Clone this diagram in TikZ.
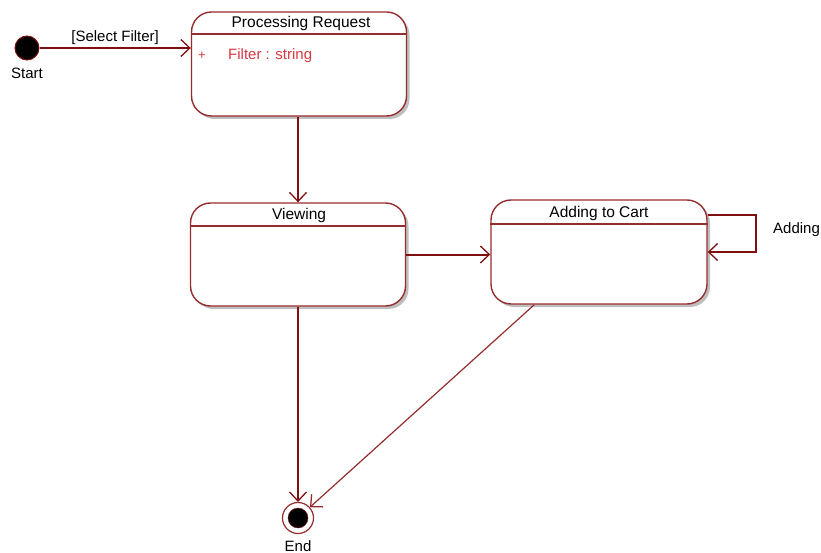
\documentclass[tikz,border=0pt]{standalone}
\usepackage{fontspec}
\setmainfont{Liberation Sans}
\usetikzlibrary{arrows.meta,shadows}
\definecolor{umlline}{RGB}{150,45,45}
\definecolor{umlarrow}{RGB}{128,15,15}
\definecolor{umlattr}{RGB}{215,55,65}
\tikzset{
  state/.style={draw=umlline,line width=1.4pt,rounded corners=20pt,fill=white,
    drop shadow={shadow xshift=3pt,shadow yshift=-3pt,fill=black!25,opacity=1}},
  statetitle/.style={inner sep=0pt,font=\fontsize{15.5}{18}\selectfont},
  trans/.style={draw=umlarrow,line width=2pt,-{Straight Barb[length=9pt,width=17pt,line width=1.3pt]}},
  lbl/.style={font=\fontsize{15}{17}\selectfont,inner sep=1pt}
}
\begin{document}
\begin{tikzpicture}[x=1pt,y=-1pt]
  \useasboundingbox (0,0) rectangle (821,553);
  % states
  \node[state,minimum width=215pt,minimum height=104pt] (proc) at (299,64) {};
  \node[statetitle] (proct) at (301,23) {Processing Request};
  \draw[umlline,line width=1.4pt] (proc.west |- 0,34) -- (proc.east |- 0,34);
  \node[inner sep=0pt,text=umlattr,font=\fontsize{13}{16}\selectfont] (plus) at (202,56) {+};
  \node[inner sep=0pt,anchor=west,text=umlattr,font=\fontsize{15}{17}\selectfont] (attr) at (228,56) {Filter : string};
  \node[state,minimum width=215pt,minimum height=103pt] (view) at (298,254.5) {};
  \node[statetitle] (viewt) at (299,215) {Viewing};
  \draw[umlline,line width=1.4pt] (view.west |- 0,226) -- (view.east |- 0,226);
  \node[state,minimum width=216pt,minimum height=104pt] (cart) at (599,252) {};
  \node[statetitle] (cartt) at (599,213) {Adding to Cart};
  \draw[umlline,line width=1.4pt] (cart.west |- 0,224) -- (cart.east |- 0,224);
  % pseudo states
  \node[circle,fill=black,draw=umlarrow,line width=1pt,minimum size=24pt,inner sep=0pt] (start) at (27,48) {};
  \node[lbl] (startl) at (27,73) {Start};
  \node[circle,draw=umlline,line width=1.2pt,fill=white,minimum size=31pt,inner sep=0pt] (end) at (298,518) {};
  \node[circle,fill=black,draw=umlarrow,minimum size=20pt,inner sep=0pt] (endc) at (end) {};
  \node[lbl] (endl) at (298,546) {End};
  % transitions
  \draw[trans] (start) -- node[lbl,above=1pt] (sel) {[Select Filter]} (start -| proc.west);
  \draw[trans] (proc.south -| 298,0) -- (view.north -| 298,0);
  \draw[trans] (view.east) -- (view.east -| cart.west);
  \coordinate (loop) at (756,215);
  \draw[trans] (cart.east |- loop) -- (loop) |- (cart.east);
  \node[lbl,anchor=west] (addl) at (772,230) {Adding};
  \draw[trans] (view.south -| 298,0) -- (end);
  \draw[trans,draw=umlline,line width=1.2pt] ([xshift=44pt]cart.south west) -- (end);
\end{tikzpicture}
\end{document}
